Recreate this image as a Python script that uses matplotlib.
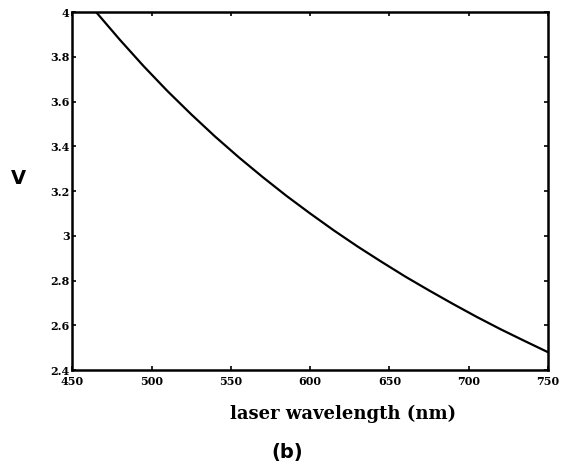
import matplotlib.pyplot as plt
from matplotlib.ticker import FuncFormatter

# values
wavelength = [465, 480, 495, 510, 525, 540, 555, 570, 585, 600,
              615, 630, 645, 660, 675, 690, 705, 720, 735, 750]
voltage = [4.000, 3.876, 3.758, 3.647, 3.543, 3.444, 3.351, 3.263, 3.179, 3.100,
           3.024, 2.952, 2.884, 2.818, 2.756, 2.696, 2.638, 2.583, 2.531, 2.480]

x_ticks = [450, 500, 550, 600, 650, 700, 750]
y_ticks = [2.4, 2.6, 2.8, 3.0, 3.2, 3.4, 3.6, 3.8, 4.0]

fig = plt.figure(figsize=(5.66, 4.69), dpi=100)
ax = fig.add_axes([0.128, 0.211, 0.840, 0.763])

ax.plot(wavelength, voltage, color='black', lw=1.6)

ax.set_xlim(450, 750)
ax.set_ylim(2.4, 4.0)
ax.set_xticks(x_ticks)
ax.set_yticks(y_ticks)
ax.yaxis.set_major_formatter(FuncFormatter(lambda v, p: '%g' % round(v, 1)))
ax.tick_params(direction='in', length=3, width=1.2, top=True, right=True,
               labelsize=8, pad=2)
ax.tick_params(axis='x', pad=4)
for lab in ax.get_xticklabels() + ax.get_yticklabels():
    lab.set_fontweight('bold')
    lab.set_family('DejaVu Serif')
for s in ax.spines.values():
    s.set_linewidth(1.8)

fig.text(0.032, 0.62, 'V', fontsize=14, fontweight='bold', ha='center', va='center')
fig.text(0.606, 0.117, 'laser wavelength (nm)', fontsize=13, fontweight='bold',
         family='DejaVu Serif', ha='center', va='center')
fig.text(0.507, 0.036, '(b)', fontsize=14, fontweight='bold', ha='center', va='center')

fig.savefig('out.png', dpi=100, facecolor='white')
